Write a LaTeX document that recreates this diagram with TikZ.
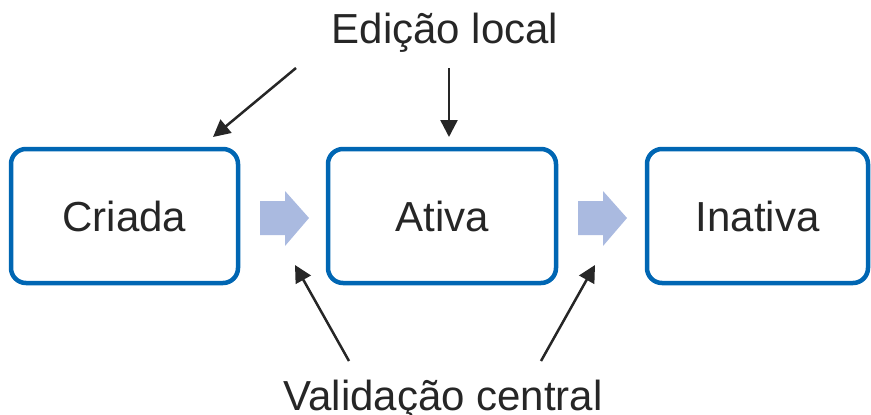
\documentclass[tikz,border=0pt]{standalone}
\usepackage{fontspec}
\setmainfont{Liberation Sans}
\usetikzlibrary{arrows.meta}

\definecolor{boxblue}{RGB}{0,102,179}
\definecolor{arrowfill}{RGB}{170,186,224}
\definecolor{ink}{RGB}{38,38,38}

\begin{document}
\begin{tikzpicture}[x=1pt, y=1pt,
  state/.style={draw=boxblue, line width=4.5pt, rounded corners=15pt,
    minimum height=134pt, inner sep=0pt, text=ink,
    font=\fontsize{42}{50}\selectfont},
  label/.style={text=ink, anchor=base, inner sep=0pt,
    font=\fontsize{42}{50}\selectfont},
  pointer/.style={draw=ink, line width=2.5pt,
    -{Triangle[length=17pt,width=17pt]}},
  blockarrow/.style={fill=arrowfill}]

\useasboundingbox (0,0) rectangle (871,-415);

\node[state, minimum width=227pt] (criada) at (124.5,-216) {Criada};
\node[state, minimum width=228pt] (ativa) at (442,-216) {Ativa};
\node[state, minimum width=221pt] (inativa) at (757.5,-216) {Inativa};

\foreach \x in {260,578}
  \fill[blockarrow, xshift=\x] (0,-201) -- (25,-201) -- (25,-191) -- (49,-218)
    -- (25,-246) -- (25,-235) -- (0,-235) -- cycle;

\node[label] (edicao) at (445,-43) {Edição local};
\node[label] (validacao) at (443,-410) {Validação central};

\coordinate (e1) at (296,-68);
\coordinate (e2) at (449,-68);
\coordinate (v1) at (349,-361);
\coordinate (v2) at (541,-361);
\coordinate (t1) at (213,-137);
\coordinate (t2) at (449,-137);
\coordinate (t3) at (295,-265);
\coordinate (t4) at (595,-265);

\draw[pointer] (e1) -- (t1);
\draw[pointer] (e2) -- (t2);
\draw[pointer] (v1) -- (t3);
\draw[pointer] (v2) -- (t4);
\end{tikzpicture}
\end{document}
